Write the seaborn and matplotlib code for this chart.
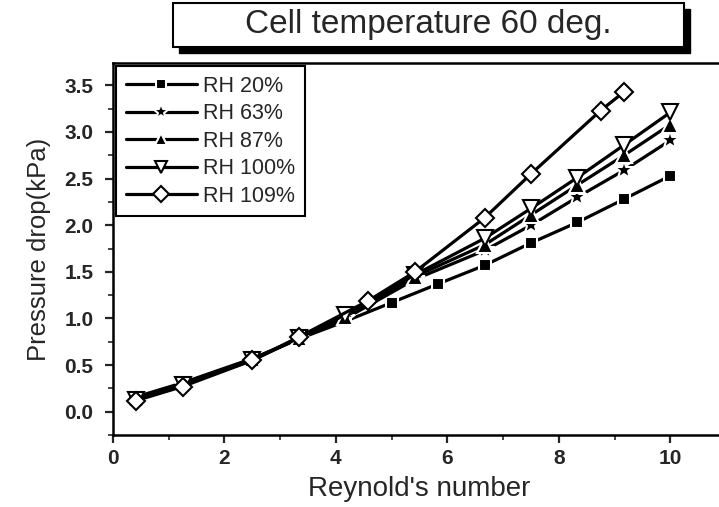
import matplotlib
matplotlib.use("Agg")
import matplotlib.pyplot as plt
import matplotlib.patches as mpatches
from matplotlib.ticker import MultipleLocator
import seaborn as sns

# values
x_rh20 = [0.42, 1.25, 2.5, 3.33, 4.17, 5.0, 5.83, 6.67, 7.5, 8.33, 9.17, 10.0]
y_rh20 = [0.16, 0.31, 0.57, 0.78, 0.97, 1.17, 1.37, 1.57, 1.81, 2.03, 2.28, 2.53]

x_mid = [0.42, 1.25, 2.5, 3.33, 4.17, 5.42, 6.67, 7.5, 8.33, 9.17, 10.0]
y_rh63 = [0.14, 0.30, 0.56, 0.78, 1.00, 1.42, 1.73, 2.00, 2.30, 2.59, 2.91]
y_rh87 = [0.14, 0.30, 0.56, 0.79, 1.02, 1.45, 1.79, 2.11, 2.43, 2.75, 3.08]
y_rh100 = [0.13, 0.29, 0.55, 0.79, 1.04, 1.47, 1.86, 2.18, 2.51, 2.86, 3.21]

x_rh109 = [0.42, 1.25, 2.5, 3.33, 4.58, 5.42, 6.67, 7.5, 8.75, 9.17]
y_rh109 = [0.12, 0.27, 0.55, 0.80, 1.19, 1.50, 2.08, 2.55, 3.23, 3.43]

labels = ["RH 20%", "RH 63%", "RH 87%", "RH 100%", "RH 109%"]

sns.set_style("ticks")
plt.rcParams["font.family"] = ["Liberation Sans", "DejaVu Sans"]

fig = plt.figure(figsize=(7.19, 5.07), dpi=100)
ax = fig.add_axes([113 / 719, 72 / 507, 613 / 719, 372 / 507])

# marker, face, edge, size
series = [
    (x_rh20, y_rh20, "s", "black", "white", 9),
    (x_mid, y_rh63, "*", "black", "white", 15),
    (x_mid, y_rh87, "^", "black", "white", 11),
    (x_mid, y_rh100, "v", "white", "black", 11),
    (x_rh109, y_rh109, "D", "white", "black", 9),
]

for (xs, ys, mk, fc, ec, ms), lab in zip(series, labels):
    sns.lineplot(x=xs, y=ys, ax=ax, color="black", linewidth=2.3,
                 marker=mk, markersize=ms, markerfacecolor=fc,
                 markeredgecolor=ec, markeredgewidth=1.5, label=lab,
                 sort=False)

ax.set_xlim(0, 11)
ax.set_ylim(-0.25, 3.74)
ax.xaxis.set_major_locator(MultipleLocator(2))
ax.xaxis.set_minor_locator(MultipleLocator(1))
ax.yaxis.set_major_locator(MultipleLocator(0.5))
ax.yaxis.set_minor_locator(MultipleLocator(0.25))
ax.tick_params(which="major", direction="out", length=6, width=1.6,
               labelsize=15)
ax.tick_params(axis="y", which="major", pad=8)
ax.tick_params(axis="x", which="major", pad=4)
ax.tick_params(which="minor", direction="out", length=3.5, width=1.2)
for lbl in ax.get_xticklabels() + ax.get_yticklabels():
    lbl.set_fontweight("bold")
for sp in ax.spines.values():
    sp.set_linewidth(1.8)
    sp.set_color("black")

ax.set_xlabel("Reynold's number", fontsize=20, labelpad=6)
ax.set_ylabel("Pressure drop(kPa)", fontsize=18.5, labelpad=10)

leg = ax.legend(loc="upper left", borderaxespad=0.15, fontsize=15.5,
                frameon=True, fancybox=False, handlelength=3.3,
                handletextpad=0.3, labelspacing=0.3, borderpad=0.45,
                numpoints=1, markerscale=0.85)
leg.get_frame().set_edgecolor("black")
leg.get_frame().set_linewidth(1.5)
leg.get_frame().set_alpha(1)

# title box with a drop shadow
bx0, bx1 = 173 / 719, 684 / 719
by0, by1 = 1 - 47 / 507, 1 - 3 / 507
shadow = mpatches.Rectangle((bx0 + 6 / 719, by0 - 6 / 507), bx1 - bx0, by1 - by0,
                            transform=fig.transFigure, facecolor="black",
                            edgecolor="black", zorder=5)
box = mpatches.Rectangle((bx0, by0), bx1 - bx0, by1 - by0,
                         transform=fig.transFigure, facecolor="white",
                         edgecolor="black", linewidth=1.5, zorder=6)
fig.patches.extend([shadow, box])
fig.text((bx0 + bx1) / 2, (by0 + by1) / 2, "Cell temperature 60 deg.",
         ha="center", va="center", fontsize=24, zorder=7)

fig.savefig("out.png", dpi=100)
